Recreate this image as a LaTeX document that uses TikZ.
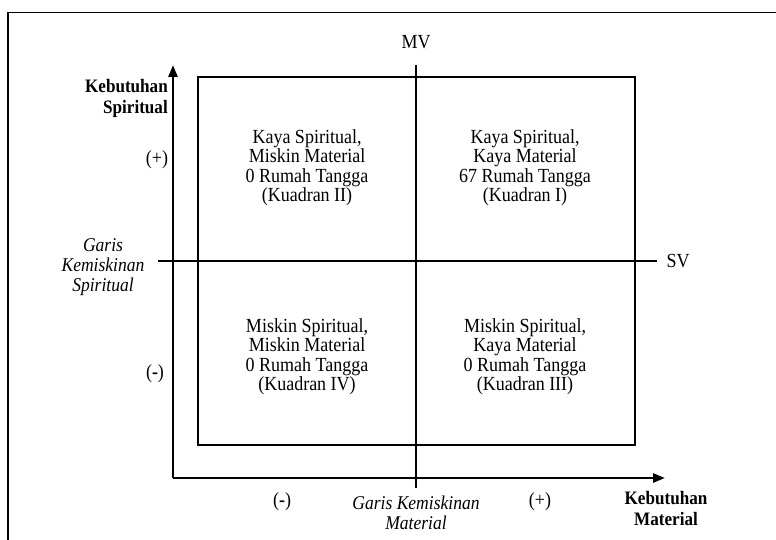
\documentclass[tikz,border=0pt]{standalone}
\usepackage{fontspec}
\setmainfont{Liberation Serif}[FakeStretch=0.9]
\usetikzlibrary{arrows.meta}
\begin{document}
\begin{tikzpicture}[x=1pt,y=-1pt,
  txt/.style={font=\fontsize{20}{19.5}\selectfont, align=center, inner sep=0pt},
  itxt/.style={txt, font=\fontsize{19.5}{20}\selectfont\itshape},
  btxt/.style={txt, font=\fontsize{19}{21}\selectfont\bfseries},
  axis/.style={line width=2.6pt, -{Triangle[length=12pt,width=9pt]}},
  thin/.style={line width=1.5pt},
  frame/.style={line width=1.6pt}]
\useasboundingbox (0,0) rectangle (776,540);
\begin{scope}
\clip (0,0) rectangle (776,540);
\draw[frame] (8,12.7) rectangle (800,560);
\end{scope}
% inner rectangle
\node[draw, thin, minimum width=437pt, minimum height=368pt, inner sep=0pt] (box) at (416.5,261) {};
% axes
\coordinate (O) at (173,478);
\coordinate (Ytip) at (173,65);
\coordinate (Xtip) at (665,478);
\draw[axis] (O) -- (Ytip);
\draw[axis] (O) -- (Xtip);
% MV and SV lines
\coordinate (MVtop) at (416,65);
\coordinate (MVbot) at (416,488);
\coordinate (SVl) at (158,261);
\coordinate (SVr) at (657,261);
\draw[thin] (MVtop) -- (MVbot);
\draw[thin] (SVl) -- (SVr);
% labels
\node[txt] (mv) at (416,42) {MV};
\node[txt] (sv) at (678,261) {SV};
\node[btxt, align=right, anchor=east] (ks) at (168,98) {Kebutuhan\\Spiritual};
\node[txt] (yplus) at (157,160) {(+)};
\node[txt] (yminus) at (155,374) {(\textbf{-})};
\node[itxt] (gks) at (103,267) {Garis\\Kemiskinan\\Spiritual};
\node[txt] (xminus) at (282,502) {(\textbf{-})};
\node[itxt] (gkm) at (416,512.5) {Garis Kemiskinan\\Material};
\node[txt] (xplus) at (540,502) {(+)};
\node[btxt] (km) at (666,508) {Kebutuhan\\Material};
% quadrants
\node[txt] (q2) at (307,167.5) {Kaya Spiritual,\\Miskin Material\\0 Rumah Tangga\\(Kuadran II)};
\node[txt] (q1) at (525,167.5) {Kaya Spiritual,\\Kaya Material\\67 Rumah Tangga\\(Kuadran I)};
\node[txt] (q4) at (307,356.5) {Miskin Spiritual,\\Miskin Material\\0 Rumah Tangga\\(Kuadran IV)};
\node[txt] (q3) at (525,356.5) {Miskin Spiritual,\\Kaya Material\\0 Rumah Tangga\\(Kuadran III)};
\end{tikzpicture}
\end{document}
